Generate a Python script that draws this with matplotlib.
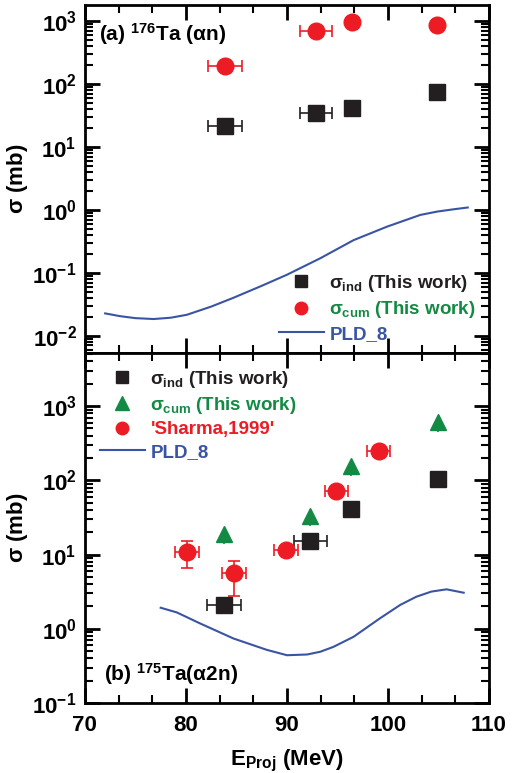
import numpy as np
import matplotlib
matplotlib.use('Agg')
from matplotlib import pyplot as plt
from matplotlib.lines import Line2D
from matplotlib.ticker import LogLocator, MultipleLocator, NullFormatter

plt.rcParams['font.family'] = ['Liberation Sans', 'DejaVu Sans']
plt.rcParams['font.weight'] = 'bold'
plt.rcParams['mathtext.fontset'] = 'custom'
plt.rcParams['mathtext.rm'] = 'Liberation Sans'
plt.rcParams['mathtext.bf'] = 'Liberation Sans:bold'
plt.rcParams['mathtext.it'] = 'Liberation Sans'

BLACK = '#231f20'
RED = '#ed1c24'
GREEN = '#138a43'
BLUE = '#3a54a4'

# ---- panel (a) 176Ta (alpha,n)
a_ind_E = [83.9, 92.9, 96.4, 104.9]
a_ind_xerr = [1.7, 1.6, 0.5, 0.5]
a_ind_sig = [21.5, 34, 41, 75]
a_cum_E = [83.9, 92.9, 96.4, 104.9]
a_cum_xerr = [1.7, 1.6, 0.5, 0.5]
a_cum_sig = [195, 700, 950, 875]
a_pld_E = [72.0, 73.5, 75.0, 76.8, 78.5, 80.1, 82.5, 84.7, 87.5, 90.0, 93.3, 96.6, 99.9, 102.0, 103.2, 104.9, 106.5, 107.9]
a_pld_sig = [0.0226, 0.0204, 0.019, 0.0184, 0.0193, 0.0215, 0.029, 0.04, 0.062, 0.093, 0.17, 0.33, 0.54, 0.71, 0.83, 0.94, 1.02, 1.09]

# ---- panel (b) 175Ta (alpha,2n)
b_ind_E = [83.8, 92.3, 96.3, 105.0]
b_ind_xerr = [1.7, 1.65, 0.5, 0.5]
b_ind_sig = [2.07, 15, 40.6, 105]
b_cum_E = [83.8, 92.3, 96.3, 105.0]
b_cum_sig = [18.7, 33, 155, 615]
b_cum_yerr = [5, 9, 42, 170]
b_sh_E = [80.1, 84.75, 89.9, 94.9, 99.1]
b_sh_sig = [10.8, 5.6, 11.5, 73, 248]
b_sh_lo = [6.5, 2.76, 11.5, 73, 248]
b_sh_hi = [15.3, 8.3, 11.5, 73, 248]
b_pld_E = [77.5, 79.1, 81.4, 84.7, 88.0, 90.0, 92.0, 93.3, 94.6, 96.6, 99.2, 101.2, 102.8, 104.3, 105.8, 107.5]
b_pld_sig = [1.92, 1.66, 1.18, 0.74, 0.52, 0.44, 0.45, 0.49, 0.57, 0.78, 1.38, 2.09, 2.7, 3.17, 3.4, 3.06]

fig = plt.figure(figsize=(5.21, 7.73), dpi=100)
axa = fig.add_axes([0.163, 0.5433, 0.7755, 0.4502])
axb = fig.add_axes([0.163, 0.0906, 0.7755, 0.4527])

def style(ax, ylim, decades):
    ax.set_yscale('log')
    ax.set_xlim(70, 110)
    ax.set_ylim(*ylim)
    for s in ax.spines.values():
        s.set_linewidth(2)
    ax.xaxis.set_major_locator(MultipleLocator(10))
    ax.xaxis.set_minor_locator(MultipleLocator(10 / 3))
    ax.yaxis.set_major_locator(LogLocator(base=10, numticks=20))
    ax.yaxis.set_minor_locator(LogLocator(base=10, subs=np.arange(2, 10), numticks=20))
    ax.yaxis.set_minor_formatter(NullFormatter())
    ax.tick_params(which='both', direction='in', top=True, right=True, width=2)
    ax.tick_params(which='major', length=11)
    ax.tick_params(which='minor', length=6, width=1.5)
    ax.set_yticks([10.0 ** d for d in decades])
    ax.set_yticklabels([r'$\mathbf{10^{%d}}$' % d for d in decades], fontsize=16)
    ax.tick_params(axis='y', pad=6)
    ax.set_ylabel(r'$\sigma$ (mb)', fontsize=16, fontweight='bold')
    ax.yaxis.set_label_coords(-0.135, 0.5)

style(axa, (5.3e-3, 1.8e3), [-2, -1, 0, 1, 2, 3])
style(axb, (0.1, 5.2e3), [-1, 0, 1, 2, 3])
axa.tick_params(labelbottom=False)
axb.set_xticks([70, 80, 90, 100, 110])
axb.set_xticklabels(['70', '80', '90', '100', '110'], fontsize=16, fontweight='bold')
axb.tick_params(axis='x', pad=9)
axb.set_xlabel(r'E$_{\mathbf{Proj}}$ (MeV)', fontsize=16, fontweight='bold', labelpad=8)

# panel (a)
axa.plot(a_pld_E, a_pld_sig, color=BLUE, lw=1.5)
axa.errorbar(a_ind_E, a_ind_sig, xerr=a_ind_xerr, fmt='s', ms=11, color=BLACK, ecolor=BLACK,
             elinewidth=1.2, capsize=4, capthick=1.2)
axa.errorbar(a_cum_E, a_cum_sig, xerr=a_cum_xerr, fmt='o', ms=12, color=RED, ecolor=RED,
             elinewidth=1.2, capsize=4, capthick=1.2)
axa.text(71.4, 6.3e2, r'(a) $^{\mathbf{176}}$Ta ($\alpha$n)', fontsize=15, fontweight='bold',
         va='center', ha='left')

ha = [Line2D([], [], ls='none', marker='s', ms=8, color=BLACK),
      Line2D([], [], ls='none', marker='o', ms=9, color=RED),
      Line2D([], [], color=BLUE, lw=1.5)]
la = [r'$\sigma_{\rm ind}$ (This work)', r'$\sigma_{\rm cum}$ (This work)', 'PLD_8']
axa.legend(ha, la, loc='lower right', bbox_to_anchor=(0.968, 0.03), frameon=False,
           borderpad=0, borderaxespad=0, handlelength=2.4, handletextpad=0.3, labelspacing=0.28,
           labelcolor=[BLACK, GREEN, BLUE], prop={'weight': 'bold', 'size': 13.5})

# panel (b)
axb.plot(b_pld_E, b_pld_sig, color=BLUE, lw=1.5)
axb.errorbar(b_ind_E, b_ind_sig, xerr=b_ind_xerr, fmt='s', ms=11, color=BLACK, ecolor=BLACK,
             elinewidth=1.2, capsize=4, capthick=1.2)
axb.errorbar(b_cum_E, b_cum_sig, yerr=[b_cum_yerr, [0] * 4], fmt='^', ms=12, color=GREEN,
             ecolor=GREEN, elinewidth=1.2, capsize=0)
sh_lo = np.array(b_sh_sig) - np.array(b_sh_lo)
sh_hi = np.array(b_sh_hi) - np.array(b_sh_sig)
axb.errorbar(b_sh_E, b_sh_sig, xerr=1.15, yerr=[sh_lo, sh_hi], fmt='o', ms=12, color=RED,
             ecolor=RED, elinewidth=1.2, capsize=4, capthick=1.2)
axb.text(71.9, 0.245, r'(b) $^{\mathbf{175}}$Ta($\alpha$2n)', fontsize=15, fontweight='bold',
         va='center', ha='left')

hb = [Line2D([], [], ls='none', marker='s', ms=8, color=BLACK),
      Line2D([], [], ls='none', marker='^', ms=10, color=GREEN),
      Line2D([], [], ls='none', marker='o', ms=9, color=RED),
      Line2D([], [], color=BLUE, lw=1.5)]
lb = [r'$\sigma_{\rm ind}$ (This work)', r'$\sigma_{\rm cum}$ (This work)',
      "'Sharma,1999'", 'PLD_8']
axb.legend(hb, lb, loc='upper left', bbox_to_anchor=(0.037, 0.955), frameon=False,
           borderpad=0, borderaxespad=0, handlelength=2.4, handletextpad=0.3, labelspacing=0.28,
           labelcolor=[BLACK, GREEN, RED, BLUE], prop={'weight': 'bold', 'size': 13.5})

fig.savefig('out.png', dpi=100)
